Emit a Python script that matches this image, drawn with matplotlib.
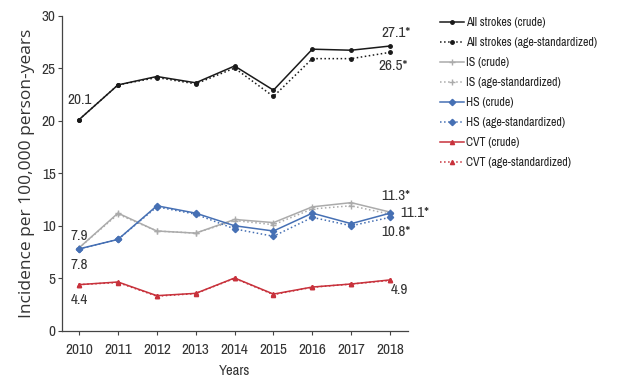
import numpy as np
import matplotlib.pyplot as plt
import matplotlib.font_manager as mfont

nomi = sorted(set(f.name for f in mfont.fontManager.ttflist))
stretti = [n for n in nomi if 'Narrow' in n or 'Condensed' in n]
font_stretto = stretti[0] if stretti else 'Roboto'

anni = [2010, 2011, 2012, 2013, 2014, 2015, 2016, 2017, 2018]

all_crude = [20.1, 23.4, 24.2, 23.6, 25.2, 22.9, 26.8, 26.7, 27.1]
all_std = [20.1, 23.4, 24.1, 23.5, 25.0, 22.3, 25.9, 25.9, 26.5]
is_crude = [7.9, 11.2, 9.5, 9.3, 10.6, 10.3, 11.8, 12.2, 11.3]
is_std = [7.9, 11.1, 9.5, 9.3, 10.5, 10.1, 11.6, 11.9, 11.1]
hs_crude = [7.8, 8.7, 11.9, 11.2, 10.0, 9.5, 11.2, 10.2, 11.2]
hs_std = [7.8, 8.7, 11.8, 11.1, 9.7, 9.0, 10.8, 10.0, 10.8]
cvt_crude = [4.4, 4.65, 3.35, 3.57, 5.03, 3.5, 4.17, 4.46, 4.85]
cvt_std = [4.4, 4.6, 3.3, 3.55, 5.0, 3.45, 4.15, 4.45, 4.8]

etichette = ['All strokes (crude)', 'All strokes (age-standardized)',
             'IS (crude)', 'IS (age-standardized)',
             'HS (crude)', 'HS (age-standardized)',
             'CVT (crude)', 'CVT (age-standardized)']

fig = plt.figure(figsize=(6.2, 3.79), dpi=100)
ax = fig.add_axes([0.1, 0.127, 0.558, 0.832])

nero, grigio, blu, rosso = '#1a1a1a', '#ababab', '#4670b4', '#c8323c'

serie = [
    (all_crude, nero, '-', 'o', 2.5),
    (all_std, nero, ':', 'o', 2.5),
    (is_crude, grigio, '-', '+', 4),
    (is_std, grigio, ':', '+', 4),
    (hs_crude, blu, '-', 'D', 3.2),
    (hs_std, blu, ':', 'D', 3.2),
    (cvt_crude, rosso, '-', '^', 3),
    (cvt_std, rosso, ':', '^', 3),
]
for (valori, col, ls, mk, ms), lab in zip(serie, etichette):
    ax.plot(anni, valori, color=col, ls=ls, lw=1.1, marker=mk, ms=ms,
            mew=1, label=lab)

ax.set_xlim(2009.56, 2018.46)
ax.set_ylim(0, 30)
ax.set_xticks(anni)
ax.set_yticks([0, 5, 10, 15, 20, 25, 30])
ax.spines['top'].set_visible(False)
ax.spines['right'].set_visible(False)
for s in ['left', 'bottom']:
    ax.spines[s].set_color('#444444')
    ax.spines[s].set_linewidth(0.9)
ax.tick_params(colors='#444444', length=3, width=0.8, labelsize=11)
ax.tick_params(axis='x', pad=6)
ax.tick_params(axis='y', pad=1.5)
for t in ax.get_xticklabels() + ax.get_yticklabels():
    t.set_fontfamily(font_stretto)
    t.set_color('#333333')

ax.set_ylabel('Incidence per 100,000 person-years', fontsize=12.5,
              family='Open Sans', color='#333333', labelpad=4.5)
ax.set_xlabel('Years', fontsize=10.5, family=font_stretto, color='#333333', labelpad=5)

testo = dict(fontsize=11, family=font_stretto, color='#333333')
ax.text(2010, all_crude[0] + 1.2, '20.1', ha='center', va='bottom', **testo)
ax.text(2010, is_crude[0] + 0.5, '7.9', ha='center', va='bottom', **testo)
ax.text(2010, hs_crude[0] - 0.9, '7.8', ha='center', va='top', **testo)
ax.text(2010, cvt_crude[0] - 0.8, '4.4', ha='center', va='top', **testo)
ax.text(2018.15, all_crude[-1] + 0.6, '27.1*', ha='center', va='bottom', **testo)
ax.text(2018.08, all_std[-1] - 0.6, '26.5*', ha='center', va='top', **testo)
ax.text(2018.15, is_crude[-1] + 0.9, '11.3*', ha='center', va='bottom', **testo)
ax.text(2018.25, hs_crude[-1], '11.1*', ha='left', va='center', **testo)
ax.text(2018.15, hs_std[-1] - 0.7, '10.8*', ha='center', va='top', **testo)
ax.text(2018.25, cvt_crude[-1] - 0.3, '4.9', ha='center', va='top', **testo)

leg = ax.legend(loc='upper left', bbox_to_anchor=(1.08, 1.01), frameon=False,
                handlelength=2.0, handletextpad=0.15, labelspacing=0.75,
                borderaxespad=0.0,
                prop={'family': font_stretto, 'size': 8.6})
for t in leg.get_texts():
    t.set_color('#222222')

fig.savefig('out.png', dpi=100)
